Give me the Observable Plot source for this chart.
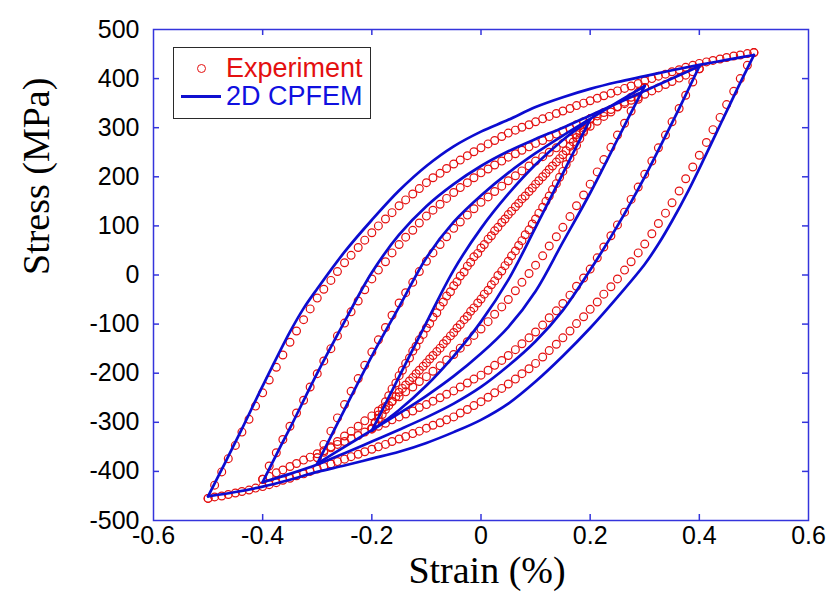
<!DOCTYPE html>
<html><head><meta charset="utf-8">
<script src="https://cdn.jsdelivr.net/npm/d3@7"></script>
<script src="https://cdn.jsdelivr.net/npm/@observablehq/plot@0.6"></script>
<style>
body{margin:0;background:#fff;}
#wrap{position:relative;width:829px;height:600px;overflow:hidden;}
#legend{position:absolute;left:173px;top:47px;width:198px;height:72px;box-sizing:border-box;border:1.5px solid #2a2a2a;background:#fff;font-family:"Liberation Sans",Arial,sans-serif;}
#legend .mk{position:absolute;left:23px;top:15.5px;width:9px;height:9px;box-sizing:border-box;border:1.3px solid #e41010;border-radius:50%;}
#legend .ln{position:absolute;left:7px;top:46.5px;width:40px;height:3px;background:#1010d0;}
#legend .t{position:absolute;left:52px;font-size:27px;line-height:27px;white-space:nowrap;}
#legend .t1{top:6.5px;color:#e41010;}
#legend .t2{top:35px;color:#1010e0;}
</style></head><body><div id="wrap"></div>
<script>
// axis ticks
const xTicks = [-0.6,-0.4,-0.2,0,0.2,0.4,0.6];
const yTicks = [-500,-400,-300,-200,-100,0,100,200,300,400,500];
const xInner = [-0.4,-0.2,0,0.2,0.4];
const yInner = [-400,-300,-200,-100,0,100,200,300,400];

// 2D CPFEM (simulation) branches: [strain %, stress MPa]
const simA_up = [[-0.50,-451],[-0.47,-385],[-0.44,-318],[-0.40,-226],[-0.35,-116],[-0.325,-68],[-0.30,-28],[-0.25,47],[-0.20,112],[-0.15,172],[-0.10,222],[-0.05,262],[0.00,292],[0.05,316],[0.10,342],[0.15,362],[0.20,379],[0.25,393],[0.30,405],[0.35,417],[0.40,428],[0.45,438],[0.50,448]];
const simA_down = [[0.50,448],[0.47,380],[0.44,310],[0.41,240],[0.38,172],[0.35,110],[0.325,63],[0.30,22],[0.25,-45],[0.20,-108],[0.15,-165],[0.10,-217],[0.05,-262],[0.00,-295],[-0.05,-320],[-0.10,-342],[-0.15,-360],[-0.20,-374],[-0.25,-388],[-0.30,-401],[-0.35,-417],[-0.40,-431],[-0.45,-442],[-0.50,-451]];
const simB_up = [[-0.40,-422],[-0.37,-355],[-0.35,-312],[-0.30,-200],[-0.25,-95],[-0.20,5],[-0.15,82],[-0.10,140],[-0.05,185],[0.00,222],[0.05,252],[0.10,277],[0.15,300],[0.20,325],[0.25,350],[0.30,375],[0.35,400],[0.40,425]];
const simB_down = [[0.40,425],[0.37,355],[0.35,310],[0.30,200],[0.25,100],[0.20,10],[0.15,-72],[0.10,-135],[0.05,-185],[0.00,-228],[-0.05,-262],[-0.10,-290],[-0.15,-315],[-0.20,-339],[-0.25,-363],[-0.30,-386],[-0.35,-405],[-0.40,-422]];
const simC_up = [[-0.30,-384],[-0.27,-318],[-0.25,-274],[-0.20,-165],[-0.15,-65],[-0.10,35],[-0.05,108],[0.00,162],[0.05,208],[0.10,248],[0.15,284],[0.20,318],[0.25,352],[0.30,385]];
const simC_down = [[0.30,385],[0.27,320],[0.25,276],[0.20,167],[0.15,67],[0.10,-33],[0.05,-106],[0.00,-160],[-0.05,-206],[-0.10,-246],[-0.15,-282],[-0.20,-316],[-0.25,-350],[-0.30,-384]];
const simD_up = [[-0.20,-317],[-0.17,-251],[-0.15,-207],[-0.10,-97],[-0.05,10],[0.00,95],[0.05,165],[0.10,225],[0.15,275],[0.20,317]];
const simD_down = [[0.20,317],[0.17,251],[0.15,207],[0.10,97],[0.05,-10],[0.00,-95],[-0.05,-165],[-0.10,-225],[-0.15,-275],[-0.20,-317]];

// Experiment branches: [strain %, stress MPa]
const expA_up = [[-0.5,-455],[-0.488,-428],[-0.475,-401],[-0.463,-374],[-0.45,-347],[-0.438,-320],[-0.425,-294],[-0.413,-267],[-0.4,-240],[-0.388,-214],[-0.375,-188],[-0.363,-163],[-0.35,-137],[-0.338,-114],[-0.325,-91],[-0.313,-69],[-0.3,-47],[-0.288,-29],[-0.275,-11],[-0.263,7],[-0.25,25],[-0.238,40],[-0.225,56],[-0.213,71],[-0.2,86],[-0.188,100],[-0.175,114],[-0.163,127],[-0.15,141],[-0.138,153],[-0.125,165],[-0.113,176],[-0.1,188],[-0.088,198],[-0.075,207],[-0.063,217],[-0.05,226],[-0.038,234],[-0.025,243],[-0.013,251],[0,259],[0.013,267],[0.025,274],[0.038,282],[0.05,289],[0.063,295],[0.075,301],[0.088,306],[0.1,312],[0.113,318],[0.125,323],[0.138,329],[0.15,334],[0.163,339],[0.175,345],[0.188,350],[0.2,355],[0.213,360],[0.225,365],[0.238,370],[0.25,375],[0.263,380],[0.275,385],[0.288,390],[0.3,395],[0.313,400],[0.325,405],[0.338,409],[0.35,414],[0.363,418],[0.375,423],[0.388,427],[0.4,431],[0.413,434],[0.425,437],[0.438,440],[0.45,443],[0.463,446],[0.475,448],[0.488,451],[0.5,453]];
const expA_down = [[0.5,453],[0.488,427],[0.475,400],[0.463,374],[0.45,347],[0.438,321],[0.425,296],[0.413,270],[0.4,244],[0.388,220],[0.375,196],[0.363,171],[0.35,147],[0.338,126],[0.325,105],[0.313,84],[0.3,63],[0.288,45],[0.275,27],[0.263,10],[0.25,-8],[0.238,-24],[0.225,-39],[0.213,-55],[0.2,-70],[0.188,-85],[0.175,-99],[0.163,-114],[0.15,-128],[0.138,-141],[0.125,-154],[0.113,-167],[0.1,-180],[0.088,-191],[0.075,-201],[0.063,-212],[0.05,-222],[0.038,-231],[0.025,-240],[0.013,-249],[0,-258],[-0.013,-266],[-0.025,-274],[-0.038,-281],[-0.05,-289],[-0.063,-295],[-0.075,-301],[-0.088,-306],[-0.1,-312],[-0.113,-318],[-0.125,-323],[-0.138,-329],[-0.15,-334],[-0.163,-339],[-0.175,-345],[-0.188,-350],[-0.2,-355],[-0.213,-360],[-0.225,-365],[-0.238,-370],[-0.25,-375],[-0.263,-380],[-0.275,-385],[-0.288,-390],[-0.3,-395],[-0.313,-400],[-0.325,-405],[-0.338,-409],[-0.35,-414],[-0.363,-418],[-0.375,-423],[-0.388,-427],[-0.4,-431],[-0.413,-434],[-0.425,-438],[-0.438,-441],[-0.45,-444],[-0.463,-447],[-0.475,-450],[-0.488,-452],[-0.5,-455]];
const expB_up = [[-0.4,-416],[-0.388,-389],[-0.375,-362],[-0.363,-335],[-0.35,-308],[-0.338,-281],[-0.325,-255],[-0.313,-228],[-0.3,-201],[-0.288,-175],[-0.275,-150],[-0.263,-124],[-0.25,-98],[-0.238,-75],[-0.225,-53],[-0.213,-30],[-0.2,-8],[-0.188,10],[-0.175,27],[-0.163,45],[-0.15,62],[-0.138,77],[-0.125,91],[-0.113,106],[-0.1,120],[-0.088,132],[-0.075,144],[-0.063,156],[-0.05,168],[-0.038,178],[-0.025,188],[-0.013,198],[0,208],[0.013,216],[0.025,224],[0.038,232],[0.05,240],[0.063,247],[0.075,254],[0.088,261],[0.1,268],[0.113,274],[0.125,281],[0.138,287],[0.15,293],[0.163,299],[0.175,306],[0.188,312],[0.2,318],[0.213,324],[0.225,331],[0.238,337],[0.25,343],[0.263,349],[0.275,356],[0.288,362],[0.3,368],[0.313,375],[0.325,381],[0.338,388],[0.35,394],[0.363,401],[0.375,407],[0.388,414],[0.4,420]];
const expB_down = [[0.4,420],[0.388,393],[0.375,366],[0.363,339],[0.35,312],[0.338,285],[0.325,259],[0.313,232],[0.3,205],[0.288,179],[0.275,154],[0.263,128],[0.25,102],[0.238,80],[0.225,57],[0.213,35],[0.2,12],[0.188,-6],[0.175,-23],[0.163,-41],[0.15,-58],[0.138,-73],[0.125,-87],[0.113,-102],[0.1,-116],[0.088,-128],[0.075,-140],[0.063,-152],[0.05,-164],[0.038,-174],[0.025,-184],[0.013,-194],[0,-204],[-0.013,-212],[-0.025,-220],[-0.038,-228],[-0.05,-236],[-0.063,-243],[-0.075,-250],[-0.088,-257],[-0.1,-264],[-0.113,-270],[-0.125,-277],[-0.138,-283],[-0.15,-289],[-0.163,-295],[-0.175,-302],[-0.188,-308],[-0.2,-314],[-0.213,-320],[-0.225,-327],[-0.238,-333],[-0.25,-339],[-0.263,-345],[-0.275,-352],[-0.288,-358],[-0.3,-364],[-0.313,-371],[-0.325,-377],[-0.338,-384],[-0.35,-390],[-0.363,-397],[-0.375,-403],[-0.388,-410],[-0.4,-416]];
const expC_up = [[-0.3,-372],[-0.288,-345],[-0.275,-318],[-0.263,-291],[-0.25,-264],[-0.238,-237],[-0.225,-211],[-0.213,-184],[-0.2,-157],[-0.188,-132],[-0.175,-107],[-0.163,-82],[-0.15,-57],[-0.138,-36],[-0.125,-15],[-0.113,7],[-0.1,28],[-0.088,45],[-0.075,62],[-0.063,78],[-0.05,95],[-0.038,108],[-0.025,122],[-0.013,135],[0,148],[0.013,159],[0.025,170],[0.038,181],[0.05,192],[0.063,202],[0.075,212],[0.088,222],[0.1,232],[0.113,241],[0.125,250],[0.138,259],[0.15,268],[0.163,277],[0.175,286],[0.188,294],[0.2,303],[0.213,313],[0.225,323],[0.238,332],[0.25,342],[0.263,352],[0.275,362],[0.288,372],[0.3,382]];
const expC_down = [[0.3,382],[0.288,358],[0.275,334],[0.263,309],[0.25,285],[0.238,260],[0.225,235],[0.213,210],[0.2,185],[0.188,163],[0.175,141],[0.163,119],[0.15,97],[0.138,78],[0.125,59],[0.113,39],[0.1,20],[0.088,3],[0.075,-15],[0.063,-32],[0.05,-50],[0.038,-65],[0.025,-80],[0.013,-95],[0,-110],[-0.013,-123],[-0.025,-136],[-0.038,-149],[-0.05,-162],[-0.063,-173],[-0.075,-185],[-0.088,-196],[-0.1,-207],[-0.113,-217],[-0.125,-228],[-0.138,-238],[-0.15,-248],[-0.163,-258],[-0.175,-268],[-0.188,-277],[-0.2,-287],[-0.213,-297],[-0.225,-308],[-0.238,-318],[-0.25,-328],[-0.263,-339],[-0.275,-350],[-0.288,-361],[-0.3,-372]];
const expD_up = [[-0.2,-312],[-0.188,-285],[-0.175,-258],[-0.163,-232],[-0.15,-205],[-0.138,-180],[-0.125,-155],[-0.113,-132],[-0.1,-108],[-0.088,-86],[-0.075,-64],[-0.063,-43],[-0.05,-22],[-0.038,-2],[-0.025,18],[-0.013,37],[0,55],[0.013,73],[0.025,90],[0.038,107],[0.05,123],[0.063,139],[0.075,155],[0.088,170],[0.1,185],[0.113,200],[0.125,215],[0.138,230],[0.15,245],[0.163,262],[0.175,280],[0.188,299],[0.2,318]];
const expD_down = [[0.2,318],[0.188,291],[0.175,264],[0.163,238],[0.15,211],[0.138,186],[0.125,161],[0.113,138],[0.1,114],[0.088,92],[0.075,70],[0.063,49],[0.05,28],[0.038,8],[0.025,-12],[0.013,-31],[0,-49],[-0.013,-67],[-0.025,-84],[-0.038,-101],[-0.05,-117],[-0.063,-133],[-0.075,-149],[-0.088,-164],[-0.1,-179],[-0.113,-194],[-0.125,-209],[-0.138,-224],[-0.15,-239],[-0.163,-257],[-0.175,-274],[-0.188,-293],[-0.2,-312]];
// second recorded cycle of the ±0.2 % loop (overlapping circles)
const expD2_up = [[-0.194,-300],[-0.181,-272],[-0.169,-246],[-0.156,-220],[-0.144,-194],[-0.131,-169],[-0.119,-145],[-0.106,-121],[-0.094,-99],[-0.081,-77],[-0.069,-55],[-0.056,-34],[-0.044,-14],[-0.031,6],[-0.019,26],[-0.006,44],[0.006,62],[0.019,80],[0.031,97],[0.044,114],[0.056,130],[0.069,146],[0.081,161],[0.094,177],[0.106,192],[0.119,207],[0.131,222],[0.144,237],[0.156,253],[0.169,271],[0.181,289],[0.194,306]];
const expD2_down = [[0.194,304],[0.181,278],[0.169,251],[0.156,225],[0.144,199],[0.131,174],[0.119,150],[0.106,126],[0.094,104],[0.081,82],[0.069,60],[0.056,39],[0.044,19],[0.031,-1],[0.019,-20],[0.006,-39],[-0.006,-57],[-0.019,-74],[-0.031,-91],[-0.044,-108],[-0.056,-124],[-0.069,-140],[-0.081,-156],[-0.094,-171],[-0.106,-186],[-0.119,-201],[-0.131,-216],[-0.144,-231],[-0.156,-248],[-0.169,-266],[-0.181,-284],[-0.194,-302]];

const simBranches = {simA_up, simA_down, simB_up, simB_down, simC_up, simC_down, simD_up, simD_down};
const expBranches = [expA_up, expA_down, expB_up, expB_down, expC_up, expC_down, expD_up, expD_down, expD2_up, expD2_down];

const sim = Object.entries(simBranches).flatMap(([k, arr]) => arr.map(([x, y]) => ({strain: x, stress: y, branch: k})));
const exp = expBranches.flatMap(arr => arr.map(([x, y]) => ({strain: x, stress: y})));

const frameColor = "#3434dc";
const fmt = d => String(d);

const chart = Plot.plot({
  width: 829, height: 600,
  marginLeft: 153, marginRight: 21, marginTop: 29, marginBottom: 80,
  x: {domain: [-0.6, 0.6]},
  y: {domain: [-500, 500]},
  style: {fontFamily: "'Liberation Sans', Arial, sans-serif", fontSize: "26px", color: "black", background: "white", overflow: "visible"},
  marks: [
    Plot.dot(exp, {x: "strain", y: "stress", r: 3.9, stroke: "#e41010", strokeWidth: 1.2, fill: "none"}),
    Plot.line(sim, {x: "strain", y: "stress", z: "branch", stroke: "#0c0cd0", strokeWidth: 2.7, curve: "catmull-rom"}),
    Plot.frame({stroke: frameColor, strokeWidth: 1.5}),
    Plot.tickX(xInner, {x: d => d, stroke: frameColor, strokeWidth: 1.5, insetTop: 485}),
    Plot.tickX(xInner, {x: d => d, stroke: frameColor, strokeWidth: 1.5, insetBottom: 485}),
    Plot.tickY(yInner, {y: d => d, stroke: frameColor, strokeWidth: 1.5, insetRight: 649}),
    Plot.tickY(yInner, {y: d => d, stroke: frameColor, strokeWidth: 1.5, insetLeft: 649}),
    Plot.axisX({ticks: xTicks, anchor: "bottom", tickSize: 0, tickPadding: 6, tickFormat: fmt, label: null, fontSize: 25}),
    Plot.axisY({ticks: yTicks, anchor: "left", tickSize: 0, tickPadding: 14, tickFormat: fmt, label: null, fontSize: 25}),
    Plot.text(["Strain (%)"], {text: d => d, frameAnchor: "bottom", dx: 6, dy: 62, fontSize: 38, fontFamily: "'Liberation Serif', 'Times New Roman', serif", fill: "black"}),
    Plot.text(["Stress (MPa)"], {text: d => d, frameAnchor: "left", dx: -117, rotate: -90, fontSize: 38, fontFamily: "'Liberation Serif', 'Times New Roman', serif", fill: "black"})
  ]
});

const wrap = document.getElementById("wrap");
wrap.appendChild(chart);
const legend = document.createElement("div");
legend.id = "legend";
legend.innerHTML = '<span class="mk"></span><span class="t t1">Experiment</span><span class="ln"></span><span class="t t2">2D CPFEM</span>';
wrap.appendChild(legend);
</script>
</body></html>
